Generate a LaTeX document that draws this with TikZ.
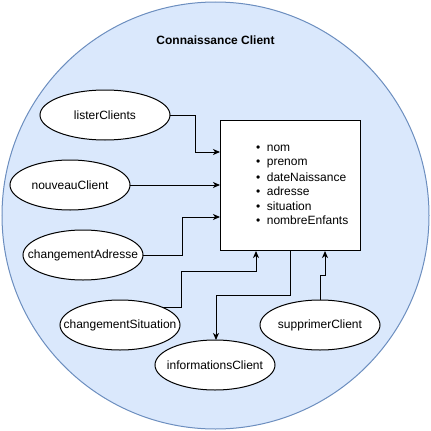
\documentclass[tikz,border=0pt]{standalone}
\usepackage{fontspec}
\setmainfont{Liberation Sans}
\usetikzlibrary{arrows.meta,shapes.geometric}
\definecolor{cfill}{HTML}{DAE8FC}
\definecolor{cdraw}{HTML}{6C8EBF}
\newcommand{\zb}[1]{\makebox[0pt]{#1}}
\tikzset{
  uc/.style={ellipse,draw=black,fill=white,line width=1pt,inner sep=0pt,outer sep=0pt,minimum width=120pt,minimum height=50pt,font=\fontsize{12}{14}\selectfont},
  conn/.style={line width=1pt,-{Stealth[length=7pt,width=6pt,inset=2pt]}},
}
\begin{document}
\begin{tikzpicture}[x=1pt,y=-1pt]
\useasboundingbox (0,0) rectangle (431,431);
\draw[cdraw,fill=cfill,line width=1pt] (215.5,215.5) circle (213.5);
\node[font=\bfseries\fontsize{12}{14}\selectfont] (title) at (215.5,40) {Connaissance Client};
\node[draw=black,fill=white,line width=1pt,minimum width=140pt,minimum height=130pt,inner sep=0pt,anchor=north west] (box) at (220,120) {};
\foreach \t [count=\i] in {nom,prenom,dateNaissance,adresse,situation,nombreEnfants}{
  \node[font=\fontsize{12}{14}\selectfont,anchor=west,inner sep=0pt] (b\i) at (256,134.5+\i*14.3) {\textbullet\hspace{6.5pt}\t};
}
\node[uc,minimum width=130pt] (lc) at (105,115) {\zb{listerClients}};
\node[uc] (nc) at (70,185) {\zb{nouveauClient}};
\node[uc] (ca) at (83,255) {\zb{changementAdresse}};
\node[uc] (cs) at (120,325) {\zb{changementSituation}};
\node[uc] (ic) at (215,365) {\zb{informationsClient}};
\node[uc] (sc) at (320,325) {\zb{supprimerClient}};
\coordinate (csout) at (161.6,307);
\draw[conn] (lc.east) -| (195,152) -- (box.west |- 0,152);
\draw[conn] (nc.east) -- (box.west |- nc.east);
\draw[conn] (ca.east) -| (182,217) -- (box.west |- 0,217);
\draw[conn] (csout) -- (181,307) -- (181,271) -- (256,271) -- (box.south -| 256,0);
\draw[conn] (box.south -| 290,0) -- (290,295) -- (216,295) -- (ic.north -| 216,0);
\draw[conn] (sc.north) -- (320,275) -- (325,275) -- (box.south -| 325,0);
\end{tikzpicture}
\end{document}
